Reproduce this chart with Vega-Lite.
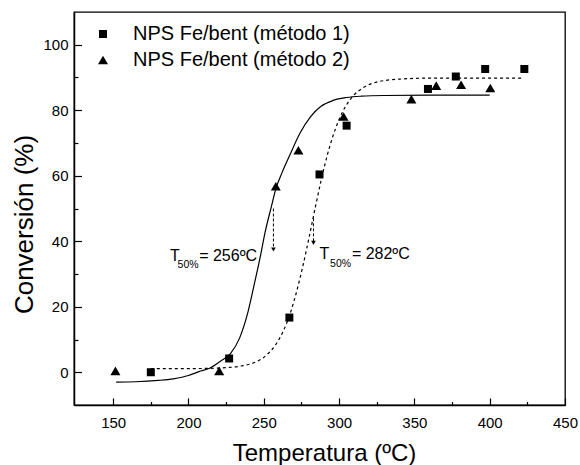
{
  "$schema": "https://vega.github.io/schema/vega-lite/v6.json",
  "width": 491,
  "height": 393,
  "autosize": {"type": "none"},
  "padding": {"left": 74, "top": 12, "right": 15, "bottom": 60},
  "background": "white",
  "config": {
    "font": "Liberation Sans",
    "view": {"stroke": "black", "strokeWidth": 1.3},
    "axis": {
      "grid": false,
      "domainColor": "black",
      "domainWidth": 1.5,
      "tickColor": "black",
      "tickWidth": 1.2,
      "labelFont": "Liberation Sans",
      "labelFontSize": 15,
      "labelColor": "black",
      "titleFont": "Liberation Sans",
      "titleFontSize": 24,
      "titleFontWeight": "normal",
      "titleColor": "black"
    },
    "legend": {
      "labelFont": "Liberation Sans",
      "labelFontSize": 20,
      "labelColor": "black",
      "labelLimit": 0
    }
  },
  "datasets": {
    "fit2": [
      {"t": 152, "c": -3.0}, {"t": 165, "c": -2.9}, {"t": 180, "c": -2.5}, {"t": 190, "c": -2.0},
      {"t": 200, "c": -1.0}, {"t": 207, "c": 0.2}, {"t": 214, "c": 1.2}, {"t": 221, "c": 3.3},
      {"t": 228, "c": 5.8}, {"t": 234, "c": 10.5}, {"t": 239, "c": 17.5}, {"t": 244, "c": 27.5},
      {"t": 248, "c": 36}, {"t": 251, "c": 43}, {"t": 255, "c": 50.5}, {"t": 258, "c": 56},
      {"t": 262, "c": 60.8}, {"t": 267, "c": 66}, {"t": 274, "c": 73}, {"t": 281, "c": 78},
      {"t": 288, "c": 81.2}, {"t": 296, "c": 83}, {"t": 305, "c": 83.9}, {"t": 315, "c": 84.3},
      {"t": 330, "c": 84.5}, {"t": 360, "c": 84.6}, {"t": 400, "c": 84.6}
    ],
    "fit1": [
      {"t": 175, "c": 1.1}, {"t": 200, "c": 1.12}, {"t": 215, "c": 1.2}, {"t": 225, "c": 1.4},
      {"t": 235, "c": 1.9}, {"t": 245, "c": 3.2}, {"t": 252, "c": 5.3}, {"t": 258, "c": 8.5},
      {"t": 263, "c": 12.6}, {"t": 268, "c": 18.6}, {"t": 272, "c": 25.0}, {"t": 276, "c": 32.5},
      {"t": 280, "c": 41.0}, {"t": 284, "c": 49.9}, {"t": 288, "c": 58.4}, {"t": 292, "c": 66.0},
      {"t": 296, "c": 72.2}, {"t": 300, "c": 77.2}, {"t": 305, "c": 81.7}, {"t": 310, "c": 84.7},
      {"t": 316, "c": 86.9}, {"t": 325, "c": 88.6}, {"t": 340, "c": 89.5}, {"t": 360, "c": 89.8},
      {"t": 422, "c": 89.8}
    ],
    "pts": [
      {"t": 175, "c": 0, "serie": "NPS Fe/bent (método 1)"},
      {"t": 227, "c": 4.2, "serie": "NPS Fe/bent (método 1)"},
      {"t": 267, "c": 16.7, "serie": "NPS Fe/bent (método 1)"},
      {"t": 287, "c": 60.4, "serie": "NPS Fe/bent (método 1)"},
      {"t": 305, "c": 75.3, "serie": "NPS Fe/bent (método 1)"},
      {"t": 359, "c": 86.5, "serie": "NPS Fe/bent (método 1)"},
      {"t": 377.5, "c": 90.3, "serie": "NPS Fe/bent (método 1)"},
      {"t": 397, "c": 92.6, "serie": "NPS Fe/bent (método 1)"},
      {"t": 423, "c": 92.6, "serie": "NPS Fe/bent (método 1)"},
      {"t": 151.5, "c": 0.4, "serie": "NPS Fe/bent (método 2)"},
      {"t": 220.4, "c": 0.4, "serie": "NPS Fe/bent (método 2)"},
      {"t": 258, "c": 56.8, "serie": "NPS Fe/bent (método 2)"},
      {"t": 273, "c": 67.8, "serie": "NPS Fe/bent (método 2)"},
      {"t": 303, "c": 78.1, "serie": "NPS Fe/bent (método 2)"},
      {"t": 348, "c": 83.4, "serie": "NPS Fe/bent (método 2)"},
      {"t": 364.5, "c": 87.5, "serie": "NPS Fe/bent (método 2)"},
      {"t": 381, "c": 87.8, "serie": "NPS Fe/bent (método 2)"},
      {"t": 400.4, "c": 86.8, "serie": "NPS Fe/bent (método 2)"}
    ],
    "arrows": [
      {"t": 256.4, "c": 50, "c2": 37.5},
      {"t": 283, "c": 47, "c2": 39.5}
    ],
    "labels": [
      {"t": 187.8, "c": 33.9, "txt": "T"},
      {"t": 207.1, "c": 33.9, "txt": "= 256ºC"},
      {"t": 287, "c": 34.5, "txt": "T"},
      {"t": 308.5, "c": 34.5, "txt": "= 282ºC"}
    ],
    "subs": [
      {"t": 192.8, "c": 31.9, "txt": "50%"},
      {"t": 294, "c": 32.1, "txt": "50%"}
    ]
  },
  "layer": [
    {
      "data": {"name": "fit2"},
      "mark": {"type": "line", "color": "black", "strokeWidth": 1.2, "interpolate": "monotone"},
      "encoding": {
        "x": {"field": "t", "type": "quantitative", "scale": {"domain": [124, 450], "nice": false, "zero": false},
          "axis": {"orient": "bottom", "values": [150, 200, 250, 300, 350, 400, 450], "tickSize": -7, "labelPadding": 17, "labelFlush": false,
            "title": "Temperatura (ºC)", "titleX": 250, "titleY": 55, "titleBaseline": "alphabetic"}},
        "y": {"field": "c", "type": "quantitative", "scale": {"domain": [-10, 110], "nice": false, "zero": false},
          "axis": {"orient": "left", "values": [0, 20, 40, 60, 80, 100], "tickSize": -7.5, "labelPadding": 13.5, "labelFlush": false,
            "title": "Conversión (%)", "titleFontSize": 26, "titleX": -42, "titleY": 212, "titleBaseline": "alphabetic"}}
      }
    },
    {
      "data": {"name": "fit1"},
      "mark": {"type": "line", "color": "black", "strokeWidth": 1.2, "strokeDash": [3, 3], "interpolate": "monotone"},
      "encoding": {
        "x": {"field": "t", "type": "quantitative", "axis": {"orient": "bottom", "values": [175, 225, 275, 325, 375, 425], "tickSize": -3.5, "labels": false, "domain": false, "title": null}},
        "y": {"field": "c", "type": "quantitative", "axis": {"orient": "left", "values": [10, 30, 50, 70, 90], "tickSize": -4, "labels": false, "domain": false, "title": null}}
      }
    },
    {
      "data": {"name": "arrows"},
      "mark": {"type": "rule", "color": "black", "strokeWidth": 1, "strokeDash": [3, 2]},
      "encoding": {
        "x": {"field": "t", "type": "quantitative", "axis": null},
        "y": {"field": "c", "type": "quantitative", "axis": null},
        "y2": {"field": "c2"}
      }
    },
    {
      "data": {"name": "arrows"},
      "mark": {"type": "point", "shape": "triangle-down", "filled": true, "color": "black", "opacity": 1, "size": 22},
      "encoding": {
        "x": {"field": "t", "type": "quantitative", "axis": null},
        "y": {"field": "c2", "type": "quantitative", "axis": null}
      }
    },
    {
      "data": {"name": "labels"},
      "mark": {"type": "text", "align": "left", "baseline": "alphabetic", "fontSize": 16, "fill": "black", "font": "Liberation Sans"},
      "encoding": {
        "x": {"field": "t", "type": "quantitative", "axis": null},
        "y": {"field": "c", "type": "quantitative", "axis": null},
        "text": {"field": "txt"}
      }
    },
    {
      "data": {"name": "subs"},
      "mark": {"type": "text", "align": "left", "baseline": "alphabetic", "fontSize": 10.5, "fill": "black", "font": "Liberation Sans"},
      "encoding": {
        "x": {"field": "t", "type": "quantitative", "axis": null},
        "y": {"field": "c", "type": "quantitative", "axis": null},
        "text": {"field": "txt"}
      }
    },
    {
      "data": {"name": "pts"},
      "mark": {"type": "point", "filled": true, "color": "black", "opacity": 1, "strokeWidth": 0},
      "encoding": {
        "x": {"field": "t", "type": "quantitative", "axis": null},
        "y": {"field": "c", "type": "quantitative", "axis": null},
        "shape": {"field": "serie", "type": "nominal",
          "scale": {"domain": ["NPS Fe/bent (método 1)", "NPS Fe/bent (método 2)"], "range": ["square", "triangle-up"]},
          "legend": {"orient": "none", "legendX": 19, "legendY": 12, "title": null, "padding": 0, "labelOffset": 20, "rowPadding": 6, "labelFontSize": 20, "labelLimit": 0, "symbolFillColor": "black", "symbolStrokeWidth": 0}},
        "size": {"field": "serie", "type": "nominal",
          "scale": {"domain": ["NPS Fe/bent (método 1)", "NPS Fe/bent (método 2)"], "range": [64, 100]},
          "legend": {"orient": "none", "legendX": 19, "legendY": 12, "title": null, "padding": 0, "labelOffset": 20, "rowPadding": 6, "labelFontSize": 20, "labelLimit": 0, "symbolFillColor": "black", "symbolStrokeWidth": 0}}
      }
    }
  ],
  "resolve": {"axis": {"x": "independent", "y": "independent"}}
}
